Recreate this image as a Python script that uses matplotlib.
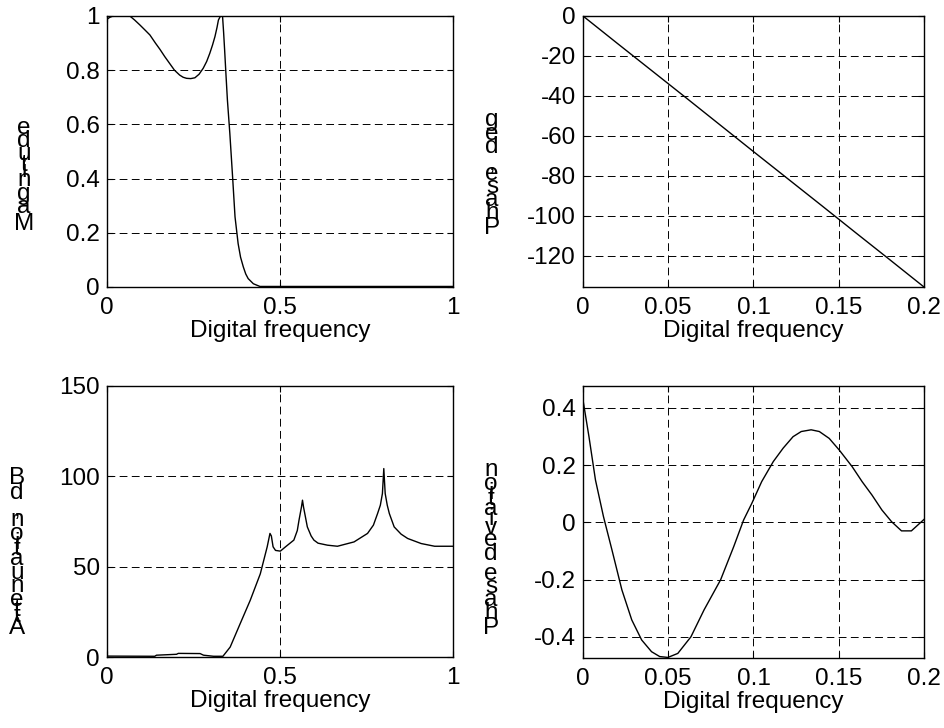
import matplotlib
matplotlib.use('Agg')
import matplotlib.pyplot as plt
import numpy as np

plt.rcParams['font.family'] = ['Liberation Sans', 'DejaVu Sans']
plt.rcParams['font.size'] = 17.5

# magnitude response
mag_f = [0, 0.008, 0.017, 0.04, 0.066, 0.08, 0.095, 0.11, 0.124, 0.14, 0.153, 0.167, 0.181,
         0.195, 0.21, 0.22, 0.23, 0.242, 0.254, 0.266, 0.278, 0.288, 0.297, 0.305, 0.312,
         0.318, 0.322, 0.328, 0.334, 0.337, 0.34, 0.344, 0.348, 0.355, 0.363, 0.37, 0.379,
         0.386, 0.394, 0.401, 0.408, 0.423, 0.442, 0.6, 0.8, 1.0]
mag_v = [0.988, 0.995, 1.0, 1.0, 1.0, 0.985, 0.967, 0.948, 0.93, 0.9, 0.877, 0.85, 0.825,
         0.8, 0.782, 0.774, 0.77, 0.769, 0.772, 0.785, 0.807, 0.832, 0.862, 0.893, 0.924,
         0.958, 0.985, 1.0, 0.998, 0.94, 0.874, 0.78, 0.69, 0.567, 0.406, 0.259, 0.16,
         0.11, 0.074, 0.048, 0.031, 0.012, 0.002, 0.002, 0.002, 0.002]

# phase response (deg)
ph_f = [0, 0.02, 0.04, 0.06, 0.08, 0.1, 0.12, 0.14, 0.16, 0.18, 0.2]
ph_v = [0, -13.6, -27.1, -40.6, -54.2, -67.8, -81.3, -94.8, -108.4, -121.9, -135.5]

# attenuation (dB)
att_f = [0, 0.138, 0.143, 0.201, 0.206, 0.269, 0.279, 0.308, 0.335, 0.356, 0.385, 0.414,
         0.443, 0.463, 0.471, 0.475, 0.48, 0.487, 0.501, 0.516, 0.54, 0.55, 0.555, 0.562,
         0.565, 0.568, 0.575, 0.579, 0.59, 0.598, 0.61, 0.637, 0.666, 0.714, 0.753, 0.77,
         0.782, 0.79, 0.796, 0.8, 0.804, 0.81, 0.816, 0.83, 0.85, 0.869, 0.908, 0.947, 1.0]
att_v = [0.5, 0.4, 1.0, 1.5, 2.0, 1.9, 1.0, 0.4, 0.4, 5.5, 18.5, 31.4,
         46, 61, 68.4, 67, 61, 59, 58.6, 61, 64.7, 70, 75.8, 83,
         86.8, 83, 76, 72, 67, 64.7, 63, 61.9, 61.3, 63.7, 68.4, 73,
         79.4, 84, 90.5, 104.3, 90.5, 84, 79.4, 72, 68, 65.6, 62.8, 61.3, 61.3]

# phase deviation
dev_f = [0, 0.0035, 0.0073, 0.012, 0.017, 0.0228, 0.0286, 0.0344, 0.0402, 0.045, 0.0498,
         0.0556, 0.0633, 0.071, 0.0807, 0.0884, 0.0942, 0.099, 0.1048, 0.1116, 0.1174,
         0.1232, 0.128, 0.1338, 0.1386, 0.1444, 0.1502, 0.1579, 0.1637, 0.1695, 0.1753,
         0.181, 0.1868, 0.1926, 0.2]
dev_v = [0.427, 0.299, 0.148, 0.02, -0.097, -0.236, -0.341, -0.411, -0.452, -0.469, -0.472,
         -0.458, -0.4, -0.306, -0.201, -0.085, 0.008, 0.066, 0.142, 0.212, 0.259,
         0.299, 0.317, 0.323, 0.317, 0.293, 0.253, 0.194, 0.142, 0.095, 0.043,
         0.002, -0.03, -0.03, 0.01]

fig = plt.figure(figsize=(9.45, 7.28), dpi=100)

W, H = 945, 728
def add_ax(l, t, r, b):
    return fig.add_axes([l / W, 1 - b / H, (r - l) / W, (b - t) / H])

ax1 = add_ax(107, 16, 453, 287)
ax2 = add_ax(583, 16, 924, 287)
ax3 = add_ax(107, 386, 453, 657)
ax4 = add_ax(583, 386, 924, 658)

def style(ax, xt, xl, yt, yl, xlim, ylim):
    ax.set_xlim(xlim)
    ax.set_ylim(ylim)
    ax.set_xticks(xt)
    ax.set_xticklabels(xl)
    ax.set_yticks(yt)
    ax.set_yticklabels(yl)
    ax.tick_params(direction='in', length=4, width=0.8, top=True, right=True,
                   labelsize=17.5, colors='black')
    ax.tick_params(axis='x', pad=7)
    ax.tick_params(axis='y', pad=5)
    ax.grid(True, color='black', linestyle=(0, (8, 4.5)), linewidth=0.7)
    for s in ax.spines.values():
        s.set_linewidth(1.0)
    ax.set_xlabel('Digital frequency', fontsize=17.5, labelpad=1)

ax1.plot(mag_f, mag_v, color='black', lw=1)
style(ax1, [0, 0.5, 1], ['0', '0.5', '1'],
      [0, 0.2, 0.4, 0.6, 0.8, 1], ['0', '0.2', '0.4', '0.6', '0.8', '1'], (0, 1), (0, 1))

ax2.plot(ph_f, ph_v, color='black', lw=1)
style(ax2, [0, 0.05, 0.1, 0.15, 0.2], ['0', '0.05', '0.1', '0.15', '0.2'],
      [-120, -100, -80, -60, -40, -20, 0],
      ['-120', '-100', '-80', '-60', '-40', '-20', '0'], (0, 0.2), (-135.5, 0))

ax3.plot(att_f, att_v, color='black', lw=1)
style(ax3, [0, 0.5, 1], ['0', '0.5', '1'],
      [0, 50, 100, 150], ['0', '50', '100', '150'], (0, 1), (0, 150))

ax4.plot(dev_f, dev_v, color='black', lw=1)
style(ax4, [0, 0.05, 0.1, 0.15, 0.2], ['0', '0.05', '0.1', '0.15', '0.2'],
      [-0.4, -0.2, 0, 0.2, 0.4], ['-0.4', '-0.2', '0', '0.2', '0.4'], (0, 0.2), (-0.474, 0.476))

# stacked upright y-labels, each letter advanced by its own width
renderer = fig.canvas.get_renderer()
def stacked(label, xc, ybottom):
    prop = matplotlib.font_manager.FontProperties(family='Liberation Sans', size=17.5)
    def w(s):
        if not s:
            return 0.0
        return renderer.get_text_width_height_descent(s + '|', prop, ismath=False)[0] - \
            renderer.get_text_width_height_descent('|', prop, ismath=False)[0]
    for k, ch in enumerate(label):
        if ch == ' ':
            continue
        c = (w(label[:k]) + w(label[:k + 1])) / 2
        fig.text(xc / W, 1 - (ybottom - c) / H, ch, ha='center', va='center',
                 fontsize=17.5)

stacked('Magnitude', 24, 234)
stacked('Phase, deg', 492, 236)
stacked('Attenuation, dB', 17, 636)
stacked('Phase deviation', 491, 636)

fig.savefig('out.png', dpi=100)
